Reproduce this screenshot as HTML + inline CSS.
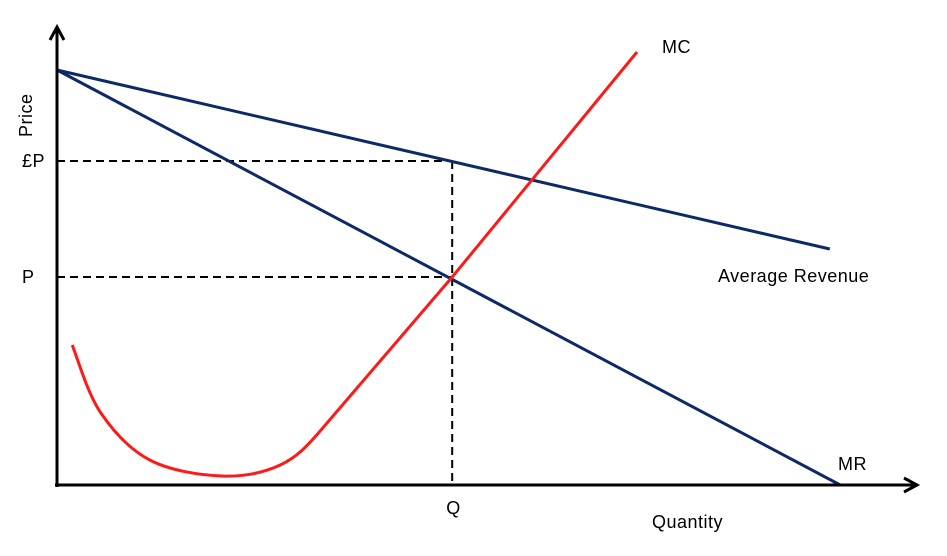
<!DOCTYPE html>
<html><head><meta charset="utf-8"><style>
html,body{margin:0;padding:0;background:#fff;}
svg{display:block;font-family:"Liberation Sans",sans-serif;}
text{font-size:18px;fill:#000;letter-spacing:0.5px;}
</style></head><body>
<svg id="chart" width="947" height="556" viewBox="0 0 947 556">
<g id="marks"></g>
</svg>
<script>
const arQuantities=[0,96.6];
const arPrices=[103.75,59];
const mrQuantities=[0,97.9];
const mrPrices=[103.75,0];
const mcQuantities=[1.9,5.4,11.6,20.6,27.9,33,49.4,72.5];
const mcPrices=[35,18.25,6.25,2.25,5,13.75,52,108.25];
const mcCurveEnd=5;
const priceLevels=[81,52];
const priceLabels=["£P","P"];
const qLevels=[49.4];
const qLabels=["Q"];
function xs(q){return 57+q*8;}
function ys(p){return 485-p*4;}
const NS="http://www.w3.org/2000/svg";
const g=document.getElementById('marks');
function mk(tag,attrs,parent){const e=document.createElementNS(NS,tag);for(const k in attrs)e.setAttribute(k,attrs[k]);(parent||g).appendChild(e);return e;}
function pts(qs,ps){return qs.map((q,i)=>xs(q)+','+ys(ps[i])).join(' ');}
function smooth(qs,ps,end){
 const P=qs.map((q,i)=>[xs(q),ys(ps[i])]);
 let d='M'+P[0][0]+','+P[0][1];
 for(let i=0;i<end;i++){
  const p0=P[i-1]||P[i],p1=P[i],p2=P[i+1],p3=P[i+2]||P[i+1];
  const c1=[p1[0]+(p2[0]-p0[0])/6,p1[1]+(p2[1]-p0[1])/6];
  let c2=[p2[0]-(p3[0]-p1[0])/6,p2[1]-(p3[1]-p1[1])/6];
  if(i===end-1&&P[end+1]){
   const dx=P[end+1][0]-p2[0],dy=P[end+1][1]-p2[1],L=Math.hypot(dx,dy);
   const dist=Math.hypot(p2[0]-p1[0],p2[1]-p1[1])/2.5;
   c2=[p2[0]-dx/L*dist,p2[1]-dy/L*dist];
  }
  d+=' C'+c1[0]+','+c1[1]+' '+c2[0]+','+c2[1]+' '+p2[0]+','+p2[1];
 }
 for(let i=end+1;i<P.length;i++)d+=' L'+P[i][0]+','+P[i][1];
 return d;
}
priceLevels.forEach((p,i)=>{
 const l=mk('line',{x1:xs(0),y1:ys(p),x2:xs(qLevels[0]),y2:ys(p),stroke:'#000','stroke-width':2,'stroke-dasharray':'8,5'});
 
 
 const t=mk('text',{x:22,y:ys(p)+6});t.textContent=priceLabels[i];
 
 
});
qLevels.forEach((q,i)=>{
 const l=mk('line',{x1:xs(q),y1:ys(priceLevels[0]),x2:xs(q),y2:ys(0),stroke:'#000','stroke-width':2,'stroke-dasharray':'8,5'});
 
 
 const t=mk('text',{x:xs(q)-6,y:514});t.textContent=qLabels[i];
 
 
});
const ar=mk('polyline',{points:pts(arQuantities,arPrices),fill:'none',stroke:'#0e2a66','stroke-width':3});


const mr=mk('polyline',{points:pts(mrQuantities,mrPrices),fill:'none',stroke:'#0e2a66','stroke-width':3});


const mc=mk('path',{d:smooth(mcQuantities,mcPrices,mcCurveEnd),fill:'none',stroke:'#ff1a1a','stroke-width':3,'stroke-linejoin':'round'});


const ya=mk('path',{d:'M57,487 L57,28 M50,40 L57,27 L64,40',fill:'none',stroke:'#000','stroke-width':3});


const xa=mk('path',{d:'M55,485 L916,485 M904,478 L917,485 L904,492',fill:'none',stroke:'#000','stroke-width':3});


function label(txt,x,y,name,rot){const t=mk('text',{x:x,y:y});if(rot)t.setAttribute('transform',rot);t.textContent=txt;
 
 }
label('Price',32,137,'y-axis-title','rotate(-90 32 137)');
label('Quantity',652,528,'x-axis-title');
label('MC',662,53,'mc-label');
label('Average Revenue',718,282,'ar-label');
label('MR',838,470,'mr-label');
</script>
</body></html>
